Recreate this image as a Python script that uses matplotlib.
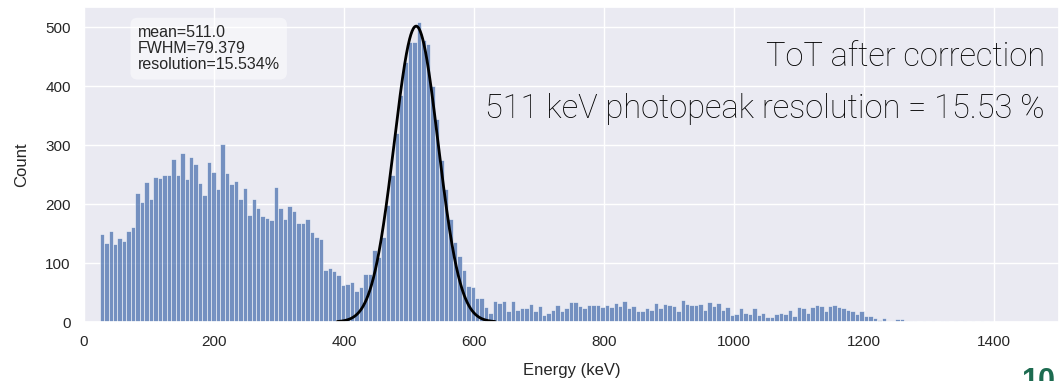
import numpy as np
import seaborn as sns
from matplotlib import pyplot as plt

# Histogram of corrected ToT energies (keV), 200 equal bins
bin_lo, bin_hi, n_bins = 24.0, 1399.0, 200
counts = [
    150, 134, 155, 133, 142, 138, 154, 162, 219, 203, 237, 209, 246, 245, 250, 250,
    277, 250, 287, 243, 280, 268, 236, 216, 271, 254, 225, 302, 253, 234, 239, 209,
    227, 182, 209, 194, 180, 176, 173, 229, 193, 174, 197, 188, 168, 168, 174, 153,
    144, 141, 89, 92, 86, 80, 62, 64, 68, 53, 59, 81, 81, 122, 111, 145,
    199, 250, 320, 385, 441, 475, 475, 509, 478, 472, 400, 345, 275, 225, 175, 136,
    112, 88, 61, 60, 40, 41, 25, 15, 36, 32, 36, 18, 36, 21, 23, 23,
    31, 19, 27, 12, 16, 21, 29, 19, 24, 34, 34, 27, 24, 28, 29, 28,
    25, 28, 25, 32, 27, 36, 23, 27, 18, 19, 23, 21, 33, 23, 31, 28,
    27, 19, 37, 31, 29, 29, 31, 20, 34, 27, 32, 21, 25, 12, 14, 23,
    15, 14, 23, 12, 15, 9, 9, 14, 15, 14, 20, 10, 26, 23, 15, 25,
    28, 27, 18, 27, 29, 25, 23, 21, 19, 14, 19, 10, 11, 6, 4, 7,
    1, 1, 5, 5, 1, 1, 1, 0, 1, 0, 1, 0, 1, 1, 0, 1,
    0, 1, 0, 1, 0, 1, 0, 1,
]

# Gaussian fit of the 511 keV photopeak
fit_mean = 511.0
fit_fwhm = 79.379
fit_amp = 502.0
resolution = 100 * fit_fwhm / fit_mean

sns.set_theme(style='darkgrid')
plt.rcParams['font.family'] = ['Liberation Sans', 'DejaVu Sans']

fig = plt.figure(figsize=(10.59, 3.81), dpi=100)
ax = fig.add_axes([84 / 1059, 59 / 381, 975 / 1059, 315 / 381])

edges = np.linspace(bin_lo, bin_hi, n_bins + 1)
width = edges[1] - edges[0]
ax.bar(edges[:-1], counts, width=width, align='edge', color='#4c72b0',
       alpha=0.75, edgecolor='white', linewidth=0.5)

sigma = fit_fwhm / (2 * np.sqrt(2 * np.log(2)))
x_fit = np.linspace(fit_mean - 3.6 * sigma, fit_mean + 3.6 * sigma, 400)
y_fit = fit_amp * np.exp(-(x_fit - fit_mean) ** 2 / (2 * sigma ** 2))
ax.plot(x_fit, y_fit, color='black', linewidth=2)

ax.set_xlim(0, 1500)
ax.set_ylim(0, max(counts) * 1.05)
ax.set_xticks([0, 200, 400, 600, 800, 1000, 1200, 1400])
ax.set_yticks([0, 100, 200, 300, 400, 500])
ax.tick_params(labelsize=11)
ax.set_xlabel('Energy (keV)', fontsize=12, labelpad=10)
ax.set_ylabel('Count', fontsize=12, labelpad=12)

stats = 'mean=%.1f\nFWHM=%.3f\nresolution=%.3f%%' % (fit_mean, fit_fwhm, resolution)
ax.text(0.055, 0.943, stats, transform=ax.transAxes, fontsize=11.5, va='top',
        linespacing=1.1,
        bbox=dict(boxstyle='round,pad=0.45', facecolor='white', edgecolor='none', alpha=0.5))

big = dict(transform=ax.transAxes, ha='right', va='baseline', fontsize=23.5,
           family=['Roboto', 'DejaVu Sans'], fontweight='light', color='black')
ax.text(0.9856, 0.8127, 'ToT after correction', **big)
ax.text(0.9856, 0.6476, '511 keV photopeak resolution = %.2f %%' % resolution, **big)

# slide number peeking in at the bottom edge
fig.text(1021 / 1059, 14 / 381, '10', fontsize=22, color='#1d6b50',
         va='top', ha='left', fontweight='bold')

fig.savefig('out.png', dpi=100)
